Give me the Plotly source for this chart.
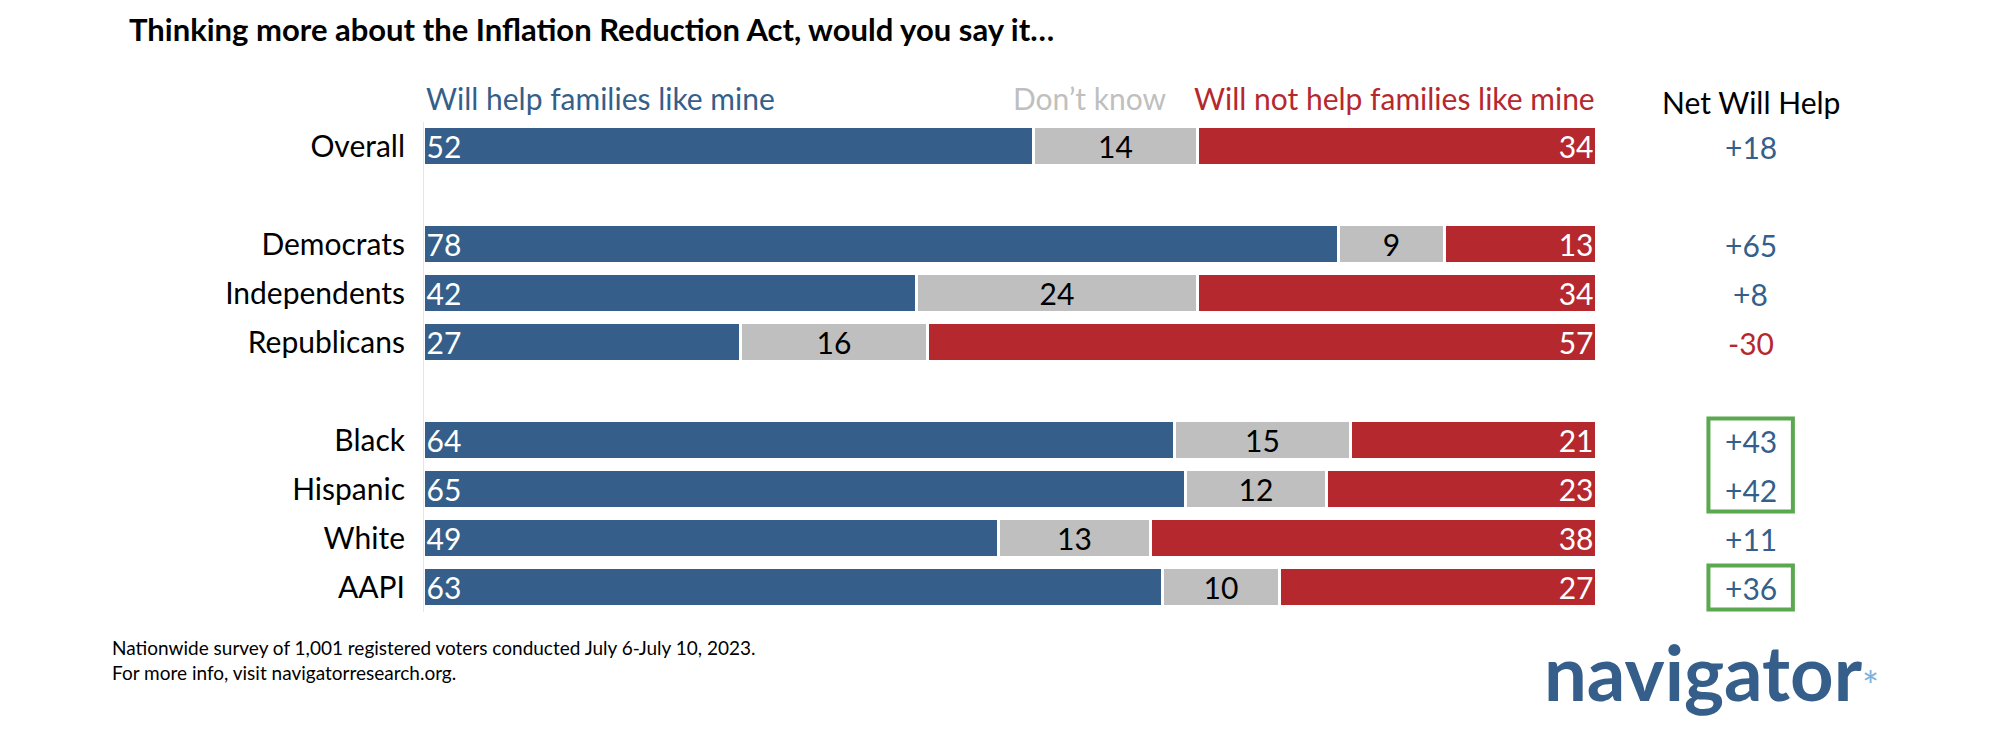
import plotly.graph_objects as go

groups = ["Overall", "Democrats", "Independents", "Republicans", "Black", "Hispanic", "White", "AAPI"]
ypos = [0, 2, 3, 4, 6, 7, 8, 9]
will_help = [52, 78, 42, 27, 64, 65, 49, 63]
dont_know = [14, 9, 24, 16, 15, 12, 13, 10]
will_not = [34, 13, 34, 57, 21, 23, 38, 27]
net = ["+18", "+65", "+8", "-30", "+43", "+42", "+11", "+36"]
net_colors = ["#355f8a", "#355f8a", "#355f8a", "#b5282e", "#355f8a", "#355f8a", "#355f8a", "#355f8a"]

BLUE, GREY, RED = "#355f8a", "#bfbfbf", "#b5282e"
F = "Lato"
NX = 1.131
fig = go.Figure()
for vals, col, anchor, tcol in [(will_help, BLUE, "start", "white"), (dont_know, GREY, "middle", "black"), (will_not, RED, "end", "white")]:
    fig.add_trace(go.Bar(y=ypos, x=vals, orientation="h", width=0.78,
                         marker=dict(color=col, line=dict(color="white", width=3)),
                         text=[str(v) for v in vals], textposition="inside", insidetextanchor=anchor, textangle=0,
                         textfont=dict(family=F, size=30, color=tcol), constraintext="none", hoverinfo="skip"))

for y, n, c in zip(ypos, net, net_colors):
    fig.add_annotation(x=NX, xref="paper", y=y, yref="y", xanchor="center", text=n, showarrow=False, font=dict(family=F, size=30, color=c))
for y0, y1 in [(5.55, 7.45), (8.55, 9.45)]:
    fig.add_shape(type="rect", xref="paper", yref="y", x0=NX - 0.036, x1=NX + 0.036, y0=y0, y1=y1, line=dict(color="#5aa84f", width=4))

LY = 1.09
fig.add_annotation(x=0, xref="paper", y=LY, yref="paper", xanchor="left", text="Will help families like mine", showarrow=False, font=dict(family=F, size=30, color=BLUE))
fig.add_annotation(x=0.634, xref="paper", y=LY, yref="paper", xanchor="right", text="Don’t know", showarrow=False, font=dict(family=F, size=30, color=GREY))
fig.add_annotation(x=1.0, xref="paper", y=LY, yref="paper", xanchor="right", text="Will not help families like mine", showarrow=False, font=dict(family=F, size=30, color=RED))
fig.add_annotation(x=NX, xref="paper", y=LY - 0.008, yref="paper", xanchor="center", text="Net Will Help", showarrow=False, font=dict(family=F, size=30, color="black"))

fig.add_annotation(x=-0.253, xref="paper", y=1.232, yref="paper", xanchor="left", text="<b>Thinking more about the Inflation Reduction Act, would you say it…</b>", showarrow=False, font=dict(family=F, size=31, color="black"))
fig.add_annotation(x=-0.268, xref="paper", y=-0.045, yref="paper", xanchor="left", yanchor="top", align="left",
                   text="Nationwide survey of 1,001 registered voters conducted July 6-July 10, 2023.<br>For more info, visit navigatorresearch.org.",
                   showarrow=False, font=dict(family=F, size=19, color="black"))
fig.add_annotation(x=1.098, xref="paper", y=-0.025, yref="paper", xanchor="center", yanchor="top",
                   text="<b>navigator</b><span style='color:#7fb0dc;font-size:40px'>*</span>", showarrow=False, font=dict(family=F, size=76, color=BLUE))

fig.update_layout(barmode="stack", width=2000, height=755, showlegend=False, plot_bgcolor="white", paper_bgcolor="white",
                  margin=dict(l=416, r=411, t=114, b=151), bargap=0,
                  xaxis=dict(range=[0, 100], visible=False),
                  yaxis=dict(range=[9.5, -0.5], tickvals=ypos, ticktext=groups, tickfont=dict(family=F, size=30, color="black"),
                             showgrid=False, zeroline=False, ticks="", ticklen=0, ticklabelstandoff=12,
                             showline=True, linecolor="#e6e6e6", linewidth=1))
fig.write_html("out.html")
